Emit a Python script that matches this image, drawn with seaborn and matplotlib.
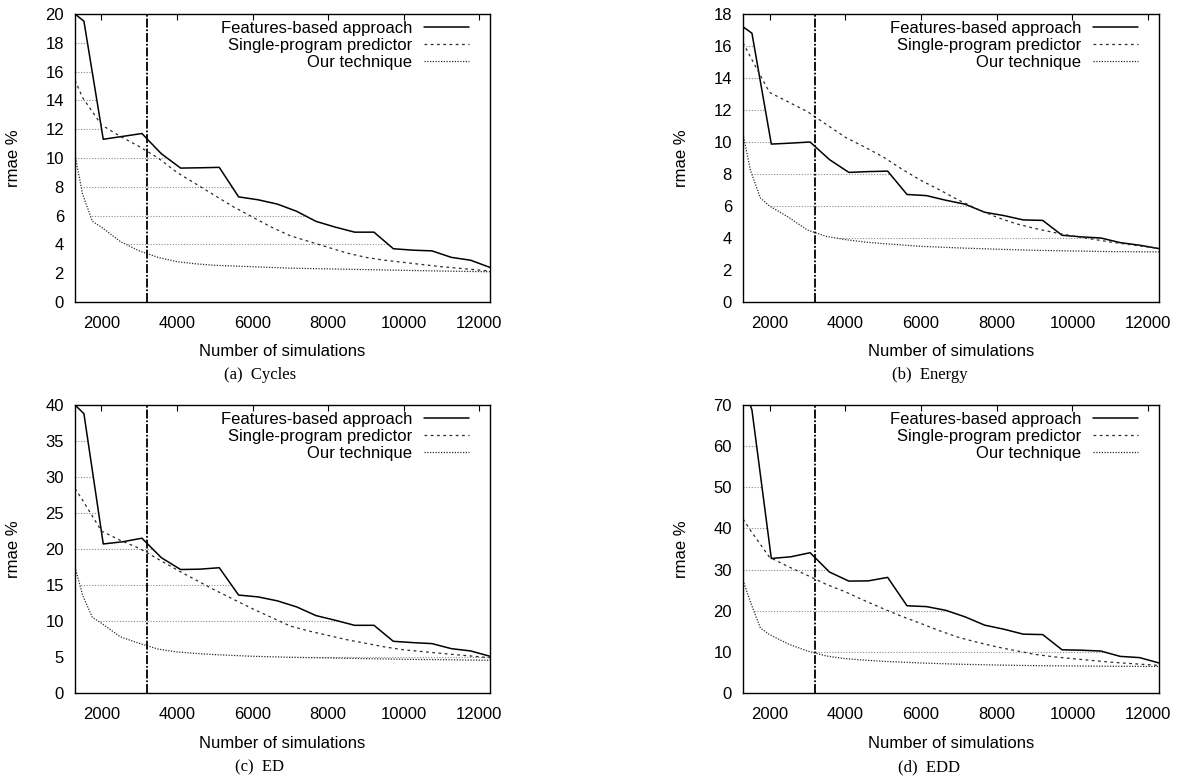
import numpy as np
import matplotlib
matplotlib.use("Agg")
import matplotlib.pyplot as plt
from matplotlib.patches import Polygon
import seaborn as sns

# number of simulations for each series
sims_features = [1300, 1536, 2048, 2560, 3072, 3584, 4096, 4608, 5120, 5632, 6144, 6656,
                 7168, 7680, 8192, 8704, 9216, 9728, 10240, 10752, 11264, 11776, 12288]
sims_single = [1300, 1500, 2000, 2500, 3000, 3500, 4000, 4500, 5000, 5500, 6000, 6500,
               7000, 7500, 8000, 8500, 9000, 9500, 10000, 11000, 12288]
sims_ours = [1300, 1500, 1760, 2000, 2500, 3000, 3500, 4000, 4500, 5000, 6000, 7000,
             8000, 9000, 10000, 11000, 12288]

# (a) Cycles
cycles_features = [20.0, 19.5, 11.3, 11.5, 11.7, 10.3, 9.3, 9.32, 9.35, 7.3, 7.1, 6.8,
                   6.3, 5.6, 5.2, 4.85, 4.85, 3.7, 3.6, 3.55, 3.1, 2.9, 2.4]
cycles_single = [15.4, 14.2, 12.3, 11.5, 10.8, 10.0, 9.0, 8.2, 7.4, 6.6, 5.9, 5.2,
                 4.6, 4.2, 3.8, 3.4, 3.1, 2.9, 2.75, 2.45, 2.15]
cycles_ours = [10.2, 7.5, 5.6, 5.2, 4.2, 3.55, 3.1, 2.8, 2.65, 2.55, 2.45, 2.35,
               2.3, 2.25, 2.2, 2.15, 2.1]

# (b) Energy
energy_features = [17.2, 16.8, 9.87, 9.93, 10.0, 8.9, 8.1, 8.15, 8.18, 6.72, 6.65, 6.36,
                   6.11, 5.61, 5.4, 5.13, 5.1, 4.17, 4.07, 4.0, 3.71, 3.55, 3.34]
energy_single = [16.2, 15.3, 13.1, 12.5, 11.9, 11.1, 10.3, 9.7, 9.07, 8.3, 7.6, 7.0,
                 6.36, 5.8, 5.3, 4.9, 4.6, 4.35, 4.13, 3.75, 3.34]
energy_ours = [10.5, 8.2, 6.5, 6.0, 5.3, 4.5, 4.1, 3.9, 3.75, 3.65, 3.48, 3.38,
               3.3, 3.23, 3.19, 3.15, 3.13]

# (c) ED
ed_features = [40.0, 38.8, 20.7, 21.0, 21.5, 18.8, 17.15, 17.2, 17.4, 13.6, 13.35, 12.8,
               11.96, 10.75, 10.1, 9.4, 9.4, 7.18, 7.0, 6.86, 6.16, 5.84, 5.1]
ed_single = [28.4, 26.8, 22.5, 21.2, 20.1, 18.6, 17.1, 15.7, 14.3, 13.0, 11.7, 10.5,
             9.3, 8.6, 8.0, 7.4, 6.9, 6.4, 6.0, 5.5, 4.9]
ed_ours = [17.5, 13.6, 10.5, 9.7, 7.8, 6.9, 6.1, 5.7, 5.5, 5.33, 5.1, 4.96,
           4.87, 4.77, 4.68, 4.63, 4.54]

# (d) EDD
edd_features = [75.0, 68.8, 32.7, 33.1, 34.1, 29.4, 27.2, 27.25, 28.1, 21.2, 21.0, 20.1,
                18.5, 16.5, 15.5, 14.3, 14.2, 10.5, 10.4, 10.2, 8.9, 8.6, 7.3]
edd_single = [42.3, 39.5, 33.0, 30.7, 28.6, 26.4, 24.6, 22.5, 20.5, 18.6, 16.9, 15.1,
              13.5, 12.3, 11.2, 10.3, 9.4, 8.8, 8.35, 7.5, 6.7]
edd_ours = [27.4, 22.0, 15.8, 14.2, 11.9, 10.2, 9.0, 8.35, 8.0, 7.7, 7.3, 7.0,
            6.8, 6.65, 6.57, 6.5, 6.45]

captions = ["(a)  Cycles", "(b)  Energy", "(c)  ED", "(d)  EDD"]
y_ticks = [list(range(0, 21, 2)), list(range(0, 19, 2)),
           list(range(0, 41, 5)), list(range(0, 71, 10))]
x_ticks = [2000, 4000, 6000, 8000, 10000, 12000]
threshold = 3200

sns.set_style("white")
plt.rcParams["font.family"] = ["Liberation Sans", "DejaVu Sans"]
plt.rcParams["font.size"] = 12
plt.rcParams["axes.edgecolor"] = "black"
plt.rcParams["axes.linewidth"] = 1.0
plt.rcParams["text.color"] = "black"
plt.rcParams["axes.labelcolor"] = "black"
plt.rcParams["xtick.color"] = "black"
plt.rcParams["ytick.color"] = "black"

W, H = 1181, 779
fig = plt.figure(figsize=(W / 100, H / 100), dpi=100)


def rect(l, t, r, b):
    return [l / W, 1 - b / H, (r - l) / W, (b - t) / H]


boxes = [rect(75, 14, 490, 302), rect(743, 14, 1159, 302),
         rect(75, 405, 490, 693), rect(743, 405, 1159, 693)]
series = [(cycles_features, cycles_single, cycles_ours),
          (energy_features, energy_single, energy_ours),
          (ed_features, ed_single, ed_ours),
          (edd_features, edd_single, edd_ours)]
caption_pos = [(0.220, 0.519), (0.787, 0.519), (0.220, 0.0155), (0.787, 0.0155)]

for i in range(4):
    feat, single, ours = series[i]
    ax = fig.add_axes(boxes[i])
    sns.lineplot(x=sims_features, y=feat, ax=ax, color="black", lw=1.1,
                 label="Features-based approach")
    sns.lineplot(x=sims_single, y=single, ax=ax, color="#2b2b2b", lw=0.9,
                 linestyle=(0, (2.2, 2.8)), label="Single-program predictor")
    sns.lineplot(x=sims_ours, y=ours, ax=ax, color="#2b2b2b", lw=0.9,
                 linestyle=(0, (1, 1.2)), label="Our technique")
    ax.axvline(threshold, color="black", lw=1.3, linestyle=(0, (5, 1, 1, 1)))

    ax.set_xlim(1300, 12288)
    ax.set_ylim(0, y_ticks[i][-1])
    ax.set_xticks(x_ticks)
    ax.set_yticks(y_ticks[i])
    ax.tick_params(axis="x", direction="in", top=True, length=4, width=0.8, pad=10)
    ax.tick_params(axis="y", length=0, pad=8)

    # horizontal grid, only visible between the best and worst curve
    ax.grid(axis="y", color="#8c8c8c", lw=0.8, linestyle=(0, (1, 1.5)))
    xy = np.column_stack([np.concatenate([sims_features, sims_ours[::-1]]),
                          np.concatenate([feat, ours[::-1]])])
    clip = Polygon(xy, closed=True, transform=ax.transData)
    for gl in ax.get_ygridlines():
        gl.set_clip_path(clip)

    ax.set_xlabel("Number of simulations")
    ax.xaxis.set_label_coords(0.5, -50 / 288)
    ax.xaxis.label.set_va("center")
    ax.set_ylabel("rmae %")
    ax.yaxis.set_label_coords(-61 / 415, 0.5)
    ax.yaxis.label.set_va("center")

    handles, labels = ax.get_legend_handles_labels()
    ax.legend(handles, labels, loc="upper right", bbox_to_anchor=(0.949, 0.977),
              frameon=False, markerfirst=False, borderpad=0, borderaxespad=0,
              handlelength=2.7, handletextpad=0.7, labelspacing=0.12, fontsize=12)

    fig.text(caption_pos[i][0], caption_pos[i][1], captions[i], ha="center", va="center",
             family="Liberation Serif", fontsize=12)

plt.savefig("out.png", dpi=100)
